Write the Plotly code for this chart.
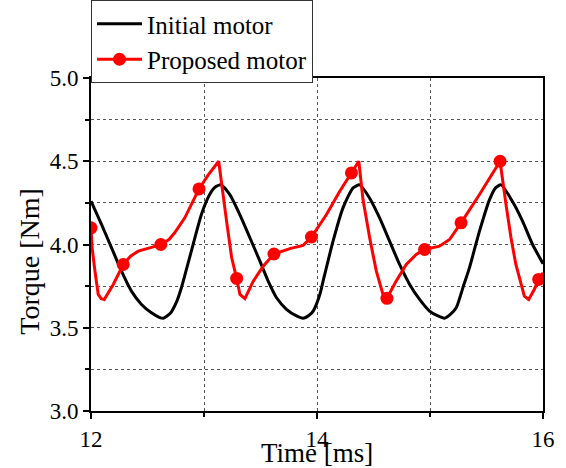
import plotly.graph_objects as go

# Initial motor (black)
init_t = [12.0, 12.094, 12.182, 12.27, 12.358, 12.447, 12.535, 12.609, 12.64, 12.70, 12.76, 12.80,
          12.888, 12.977, 13.05, 13.10, 13.15, 13.23, 13.318, 13.407, 13.495, 13.568, 13.642, 13.73,
          13.819, 13.877, 13.93, 13.966, 14.025, 14.054, 14.142, 14.23, 14.319, 14.378, 14.466, 14.555,
          14.643, 14.731, 14.82, 14.908, 14.996, 15.07, 15.128, 15.18, 15.232, 15.30, 15.349, 15.438,
          15.526, 15.58, 15.629, 15.73, 15.82, 15.908, 16.0]
init_T = [4.26, 4.119, 3.98, 3.84, 3.72, 3.64, 3.59, 3.561, 3.557, 3.585, 3.66, 3.74,
          3.96, 4.18, 4.30, 4.345, 4.358, 4.298, 4.178, 4.039, 3.90, 3.78, 3.68, 3.611,
          3.571, 3.557, 3.575, 3.60, 3.70, 3.78, 4.02, 4.22, 4.34, 4.358, 4.278, 4.158,
          4.019, 3.88, 3.76, 3.67, 3.60, 3.571, 3.557, 3.58, 3.62, 3.76, 3.86, 4.08,
          4.268, 4.34, 4.358, 4.258, 4.139, 4.0, 3.885]

# Proposed motor (red)
prop_t = [12.0, 12.01, 12.035, 12.064, 12.09, 12.117, 12.197, 12.285, 12.35, 12.418, 12.535, 12.618,
          12.69, 12.74, 12.83, 12.956, 13.036, 13.13, 13.20, 13.245, 13.289, 13.318, 13.362, 13.436,
          13.524, 13.619, 13.76, 13.877, 13.951, 14.084, 14.20, 14.305, 14.37, 14.407, 14.466, 14.525,
          14.584, 14.619, 14.70, 14.79, 14.878, 14.952, 15.084, 15.173, 15.275, 15.438, 15.62, 15.673,
          15.717, 15.76, 15.806, 15.835, 15.873, 15.923, 15.962, 16.0]
prop_T = [4.10, 3.98, 3.84, 3.70, 3.675, 3.67, 3.76, 3.88, 3.93, 3.96, 3.983, 4.0,
          4.03, 4.07, 4.16, 4.334, 4.417, 4.50, 4.139, 3.92, 3.796, 3.70, 3.675, 3.78,
          3.87, 3.943, 3.975, 3.995, 4.045, 4.18, 4.318, 4.43, 4.50, 4.27, 4.04, 3.84,
          3.70, 3.677, 3.78, 3.88, 3.94, 3.97, 3.99, 4.03, 4.13, 4.30, 4.50, 4.238,
          4.039, 3.88, 3.76, 3.69, 3.67, 3.73, 3.79, 3.83]

# Marker positions on the proposed curve
mark_t = [12.0, 12.285, 12.618, 12.956, 13.289, 13.619, 13.951, 14.305, 14.619, 14.952, 15.275, 15.62, 15.962]
mark_T = [4.10, 3.88, 4.0, 4.334, 3.796, 3.943, 4.045, 4.43, 3.677, 3.97, 4.13, 4.50, 3.79]

x_ticks = [12, 14, 16]
y_ticks = [3.0, 3.5, 4.0, 4.5, 5.0]

FONT = "Times New Roman, Liberation Serif, serif"

fig = go.Figure()
fig.add_trace(go.Scatter(x=init_t, y=init_T, mode="lines", name="Initial motor",
                         line=dict(color="black", width=3, shape="spline", smoothing=0.6)))
fig.add_trace(go.Scatter(x=prop_t, y=prop_T, mode="lines", showlegend=False,
                         line=dict(color="#ff0000", width=3)))
fig.add_trace(go.Scatter(x=mark_t, y=mark_T, mode="markers", showlegend=False,
                         marker=dict(color="#ff0000", size=13)))
fig.add_trace(go.Scatter(x=[None], y=[None], mode="lines+markers", name="Proposed motor",
                         line=dict(color="#ff0000", width=3),
                         marker=dict(color="#ff0000", size=13)))

axis_common = dict(
    showline=True, linecolor="black", linewidth=2, mirror=True,
    ticks="outside", ticklen=6, tickwidth=1.5, tickcolor="black",
    showgrid=True, gridcolor="#555", gridwidth=1, griddash="dot",
    zeroline=False,
    tickfont=dict(family=FONT, size=23, color="black"),
)

fig.update_xaxes(range=[12, 16], tickvals=x_ticks, ticktext=[str(v) for v in x_ticks],
                 minor=dict(dtick=1, tick0=12, ticks="outside", ticklen=4, tickcolor="black",
                            showgrid=True, gridcolor="#555", griddash="dot"),
                 **axis_common)
fig.update_yaxes(range=[3.0, 5.0], tickvals=y_ticks, ticktext=[f"{v:.1f}" for v in y_ticks],
                 minor=dict(dtick=0.25, tick0=3.0, ticks="outside", ticklen=4, tickcolor="black",
                            showgrid=True, gridcolor="#555", griddash="dot"),
                 **axis_common)

fig.update_layout(
    width=566, height=468,
    margin=dict(l=91, r=23, t=78, b=57, autoexpand=False),
    paper_bgcolor="white", plot_bgcolor="white",
    font=dict(family=FONT, color="black"),
    showlegend=True,
    legend=dict(x=0, xref="paper", xanchor="left",
                y=1, yref="container", yanchor="top",
                bgcolor="white", bordercolor="#333", borderwidth=1,
                font=dict(family=FONT, size=25, color="black"),
                itemwidth=45, tracegroupgap=0),
    annotations=[
        dict(text="Time [ms]", xref="paper", yref="paper", x=0.5, y=-0.125,
             xanchor="center", yanchor="middle", showarrow=False,
             font=dict(family=FONT, size=27, color="black")),
        dict(text="Torque [Nm]", xref="paper", yref="paper", x=-0.136, y=0.45,
             xanchor="center", yanchor="middle", showarrow=False, textangle=-90,
             font=dict(family=FONT, size=28, color="black")),
    ],
)

fig.write_html("out.html")
